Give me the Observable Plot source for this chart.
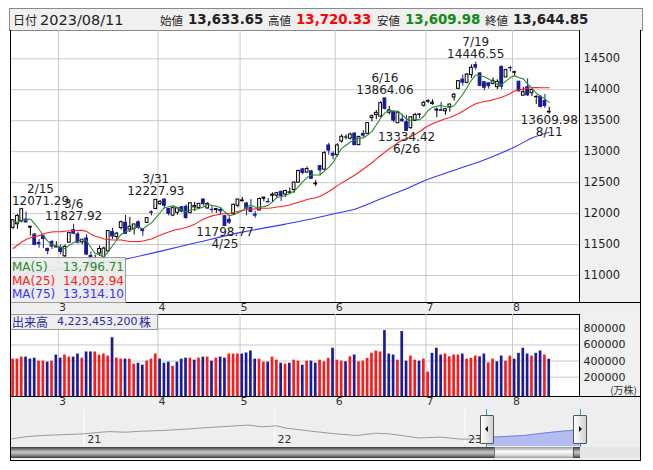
<!DOCTYPE html>
<html><head><meta charset="utf-8">
<script src="https://cdn.jsdelivr.net/npm/d3@7"></script>
<script src="https://cdn.jsdelivr.net/npm/@observablehq/plot@0.6"></script>
<style>
html,body{margin:0;padding:0;background:#fff;}
#root{position:relative;width:653px;height:470px;overflow:hidden;font-family:"DejaVu Sans",sans-serif;color:#222;}
#root > div, #root > svg{position:absolute;}
.jp{font-family:"Noto Sans CJK JP","DejaVu Sans",sans-serif;}
</style></head><body><div id="root"></div>
<script>
// ---------------- data ----------------
const dates = ["2/13","2/14","2/15","2/16","2/17","2/21","2/22","2/23","2/24","2/27","2/28",
"3/1","3/2","3/3","3/6","3/7","3/8","3/9","3/10","3/13","3/14","3/15","3/16","3/17","3/20","3/21","3/22","3/23","3/24","3/27","3/28","3/29","3/30","3/31",
"4/3","4/4","4/5","4/6","4/10","4/11","4/12","4/13","4/14","4/17","4/18","4/19","4/20","4/21","4/24","4/25","4/26","4/27","4/28",
"5/1","5/2","5/3","5/4","5/5","5/8","5/9","5/10","5/11","5/12","5/15","5/16","5/17","5/18","5/19","5/22","5/23","5/24","5/25","5/26","5/30","5/31",
"6/1","6/2","6/5","6/6","6/7","6/8","6/9","6/12","6/13","6/14","6/15","6/16","6/20","6/21","6/22","6/23","6/26","6/27","6/28","6/29","6/30",
"7/3","7/5","7/6","7/7","7/10","7/11","7/12","7/13","7/14","7/17","7/18","7/19","7/20","7/21","7/24","7/25","7/26","7/27","7/28","7/31",
"8/1","8/2","8/3","8/4","8/7","8/8","8/9","8/10","8/11"];

const open = [11770,11828,11880,11904,11773,11661,11525,11635,11430,11540,11452,
11443,11310,11531,11732,11663,11535,11598,11316,11066,11356,11276,11390,11702,11621,11767,11852,11744,11749,11860,11750,11850,12019,12075,
12151,12227,12075,11968,12012,12101,12109,12012,12100,12087,12226,12083,12061,12058,12058,11957,11900,11990,12127,
12201,12162,12089,11984,12051,12240,12189,12287,12290,12351,12308,12336,12381,12500,12714,12662,12681,12474,12766,12710,13100,12966,
12946,13165,13228,13210,13290,13105,13286,13288,13542,13591,13568,13860,13629,13646,13459,13518,13476,13380,13496,13601,13742,
13807,13772,13665,13671,13652,13717,13876,14015,14164,14112,14237,14398,14264,14121,14103,14094,14042,14368,14199,14350,
14275,14129,13904,14040,13944,13880,13888,13818,13633.65];

const high = [11897,11987,12071.29,12027,11795,11675,11580,11638,11440,11569,11547,
11490,11491,11690,11827.92,11699,11590,11661,11378,11326,11479,11461,11727,11762,11697,11880,11972,11938,11830,11882,11755,11931,12046,12227.93,
12213,12231,12081,12092,12089,12113,12141,12173,12181,12158,12242,12176,12114,12083,12096,11968,11946,12152,12231,
12262,12184,12227,12035,12252,12267,12244,12335,12343,12364,12377,12414,12514,12700,12731,12753,12698,12535,12780,13000,13135,12996,
13128,13272,13272,13302,13310,13247,13341,13463,13594,13663,13808,13864.06,13730,13655,13641,13603,13585,13561,13620,13612,13816,
13839,13835,13706,13795,13697,13770,13940,14150,14238,14263,14402,14446.55,14273,14133,14109,14190,14162,14387,14333,14379,
14300,14140,14041,14175,14002,13906,13893,13925,13720.33];

const low = [11744,11748,11850,11850,11638,11490,11440,11436,11333,11420,11450,
11337,11292,11522,11660,11510,11495,11322,11086,10982.80,11305,11215,11375,11583,11570,11735,11668,11695,11655,11745,11633,11841,11962,12061,
12133,12074,11962,11950,11973,12015,11906,11994,12033,12066,12120,12072,12005,12002,11970,11798.77,11826,11974,12094,
12185,11963,12018,11925,12044,12193,12176,12182,12253,12195,12261,12320,12325,12491,12626,12658,12552,12437,12610,12700,12946,12869,
12915,13137,13192,13188,13095,13097,13226,13281,13481,13517,13552,13672,13595,13469,13453,13471,13334.42,13362,13495,13532,13718,
13780,13749,13548,13653,13589,13638,13817,14003,14058,14095,14181,14315,14050,13984,14011,14080,14000,14000,14199,14287,
14208,13963,13901,13895,13891,13762,13707,13698,13609.98];

const close = [11891.79,11960.15,12070.59,11855.83,11787.27,11492.30,11507.07,11590.40,11394.94,11466.98,11455.54,
11379.48,11462.98,11689.01,11675.74,11530.33,11576.00,11338.35,11138.89,11188.84,11428.15,11434.05,11717.28,11630.51,11675.54,11860.11,11669.96,11787.40,11823.96,11768.84,11716.08,11926.24,12013.47,12221.91,
12189.45,12126.33,11996.86,12087.96,12084.36,12031.88,11929.34,12166.27,12123.47,12157.72,12153.41,12157.23,12059.56,12072.46,12037.20,11799.16,11854.35,12142.24,12226.58,
12212.60,12080.51,12025.33,11966.40,12235.41,12256.92,12179.55,12306.44,12328.51,12284.74,12365.21,12343.05,12500.57,12688.84,12657.90,12720.78,12560.25,12484.16,12698.09,12975.69,13017.43,12935.29,
13100.98,13240.77,13229.43,13276.42,13104.90,13238.52,13259.14,13461.92,13573.32,13626.48,13782.82,13689.57,13667.29,13502.20,13630.61,13492.52,13335.78,13555.67,13591.75,13591.33,13787.92,
13816.77,13791.65,13679.04,13660.72,13685.48,13760.70,13918.96,14138.57,14113.70,14244.95,14353.64,14358.02,14063.31,14032.81,14058.87,14144.56,14127.28,14050.11,14316.66,14346.02,
14283.91,13973.45,13959.72,13909.24,13994.40,13884.32,13722.02,13737.99,13644.85];

// volume in 万株
const volume = [424000,424000,449000,449000,424000,436000,399000,399000,386000,399000,474000,436000,474000,449000,449000,487000,436000,513000,513000,513000,474000,487000,462000,690000,436000,424000,424000,424000,361000,373000,348000,399000,424000,487000,424000,373000,386000,335000,386000,424000,436000,436000,411000,436000,449000,449000,399000,436000,449000,436000,487000,487000,487000,487000,500000,525000,424000,424000,386000,386000,449000,411000,373000,361000,373000,411000,399000,348000,399000,399000,373000,
411000,390000,433000,559000,411000,399000,390000,453000,475000,390000,399000,433000,496000,525000,513000,778000,487000,475000,411000,766000,399000,462000,411000,399000,424000,263000,496000,559000,475000,487000,453000,475000,475000,487000,424000,433000,462000,453000,487000,377000,424000,390000,462000,399000,462000,424000,496000,559000,487000,462000,496000,525000,475000,422345.32];

const ma5Lead = [11885, 11854, 11886, 11899];
const ma25Lead = [11436,11489,11542,11580,11611,11628,11644,11669,11690,11704,11707,11709,11715,11722,11724,11730,11729,11710,11668,11635,11617,11590,11582,11576];
const ma75At = [0,11,26,34,43,53,63,71,75,79,83,88,91,94,102,110,116,120,124];
const ma75Val = [11000,11100,11265,11390,11540,11700,11830,11945,12010,12070,12180,12320,12400,12500,12700,12895,13075,13220,13314.10];

const annDates = ["2/15","3/6","3/13","3/31","4/25","6/16","6/26","7/19","8/11"];
const annKinds = ["high","high","low","high","low","high","low","high","low"];

const priceTicks = [11000,11500,12000,12500,13000,13500,14000,14500];
const volTicks = [200000,400000,600000,800000];
const monthLabels = ["3","4","5","6","7","8"];

// navigator (long-term line)
const navYear = [2020.61,2020.69,2020.78,2020.88,2021.00,2021.09,2021.13,2021.22,2021.30,2021.40,2021.53,2021.66,2021.77,2021.86,2021.93,2021.97,2022.01,2022.06,2022.10,2022.19,2022.32,2022.43,2022.53,2022.60,2022.69,2022.76,2022.87,2022.98,2023.08,2023.12,2023.15,2023.24,2023.31,2023.42,2023.51,2023.58,2023.61];
const navValue = [10400,11390,11870,12190,12550,13180,13420,13180,13580,13820,14370,15090,15560,16000,15360,15480,15720,14770,14450,13580,12550,11870,12780,12550,11590,10880,11240,10400,10520,10800,11240,11590,11870,12900,13580,14050,13850];
const navYearTicks = [2021,2022,2023];
const navYearLabels = ["21","22","23"];
const selStartYear = 2023.118, selEndYear = 2023.608;

// ---------------- derived ----------------
const n = dates.length;
const idx = d3.range(n);
const month = dates.map(d => +d.split("/")[0]);
const monthStart = idx.filter(i => i > 0 && month[i] !== month[i-1]);
const boundaries = monthStart.map(i => i - 0.5);
const boundLabel = new Map(boundaries.map((b,k) => [b, monthLabels[k]]));

const ma5 = idx.map(i => i < 4 ? ma5Lead[i] : d3.mean(close.slice(i-4, i+1)));
const ma25 = idx.map(i => i < 24 ? ma25Lead[i] : d3.mean(close.slice(i-24, i+1)));
const ma75 = ma75At.map((k,j) => ({i:k, v:ma75Val[j]}));

const NAVY = "#1b1b98", RED = "#ff1a1a";
const bars = idx.map(i => ({i, o:open[i], h:high[i], l:low[i], c:close[i], up: close[i] >= open[i]}));
const vbars = idx.map(i => ({i, v: volume[i], up: i === 0 ? close[0] >= open[0] : close[i] >= close[i-1]}));

const X_DOMAIN = [-0.6, 131.0];
const P_DOMAIN = [10564, 14957];
const V_DOMAIN = [-40000, 978000];
const PLOT_W = 569;
const xs = d3.scaleLinear(X_DOMAIN, [0, PLOT_W]);
const fmt = d3.format(",.2f");
const trunc2 = v => Math.floor(v * 100 + 1e-6) / 100;
const FONT = "DejaVu Sans, sans-serif";

const root = document.getElementById("root");
function box(css, cls) { const d = document.createElement("div"); Object.assign(d.style, {position:"absolute", boxSizing:"border-box"}, css); if (cls) d.className = cls; root.appendChild(d); return d; }
function span(parent, text, css, cls) { const s = document.createElement("span"); s.textContent = text; Object.assign(s.style, {position:"absolute", whiteSpace:"nowrap"}, css); if (cls) s.className = cls; parent.appendChild(s); return s; }
function place(svg, left, top) { svg.style.position = "absolute"; svg.style.left = left + "px"; svg.style.top = top + "px"; root.appendChild(svg); }

// ---------------- backgrounds ----------------
const hdr = box({left:"9px", top:"8px", width:"634px", height:"23px", background:"#f0f0f0", border:"1px solid #8a8a8a"});
box({left:"579px", top:"30px", width:"62px", height:"273px", background:"#f0f0f0", borderLeft:"1px solid #000"});
box({left:"10px", top:"302px", width:"631px", height:"13px", background:"#efefef", borderTop:"1px solid #000", borderBottom:"1px solid #000"});
box({left:"579px", top:"314px", width:"62px", height:"83px", background:"#f0f0f0", borderLeft:"1px solid #000"});
box({left:"10px", top:"396px", width:"631px", height:"13px", background:"#efefef", borderTop:"1px solid #000", borderBottom:"1px solid #000"});
box({left:"10px", top:"408px", width:"631px", height:"52px", background:"#eeeeee"});

// header text
const last = n - 1;
span(hdr, "日付", {left:"3px", top:"2px", fontSize:"12px", lineHeight:"18px"}, "jp");
span(hdr, "2023/08/11", {left:"30px", top:"1px", fontSize:"14.5px", lineHeight:"20px"});
const hv = [["始値", open[last], "#222", 150], ["高値", high[last], "#ff0000", 258], ["安値", low[last], "#138a13", 367], ["終値", close[last], "#222", 475]];
for (const [lab, v, col, x] of hv) {
  span(hdr, lab, {left: x + "px", top:"2px", fontSize:"11.5px", lineHeight:"18px"}, "jp");
  span(hdr, fmt(v), {left: (x + 28) + "px", top:"1px", fontSize:"13.4px", fontWeight:"bold", color: col, lineHeight:"20px"});
}

// ---------------- price panel ----------------
const annMarks = [];
annDates.forEach((d, k) => {
  const i = dates.indexOf(d);
  const isHigh = annKinds[k] === "high";
  const v = isHigh ? high[i] : low[i];
  const px = xs(i), half = 29;
  let dx = 0;
  if (px - half < 1) dx = 1 + half - px;
  if (px + half > PLOT_W - 1) dx = PLOT_W - 1 - half - px;
  const rec = [{i, v, val: v.toFixed(2), date: d}];
  const common = {x: "i", y: "v", dx, fontSize: 12, fill: "#222", fontFamily: FONT};
  annMarks.push(Plot.text(rec, {...common, text: "val", dy: isHigh ? -8 : 6}));
  annMarks.push(Plot.text(rec, {...common, text: "date", dy: isHigh ? -20 : 18}));
});

const price = Plot.plot({
  width: 631, height: 284,
  marginLeft: 0, marginRight: 62, marginTop: 0, marginBottom: 12,
  x: {type: "linear", domain: X_DOMAIN, axis: null},
  y: {domain: P_DOMAIN, axis: null},
  style: {background: "transparent", fontFamily: FONT, overflow: "visible"},
  marks: [
    Plot.gridY(priceTicks, {stroke: "#c9c9c9", strokeOpacity: 1}),
    Plot.gridX(boundaries, {stroke: "#c9c9c9", strokeOpacity: 1}),
    Plot.axisY(priceTicks, {anchor: "right", label: null, tickSize: 0, tickPadding: 4, fontSize: 11.5, tickFormat: d => String(d), color: "#222"}),
    Plot.axisX(boundaries, {anchor: "bottom", label: null, tickSize: 0, tickPadding: 1, dx: 4, fontSize: 11, tickFormat: d => boundLabel.get(d), color: "#333"}),
    Plot.ruleX(bars, {x: "i", y1: "l", y2: "h", stroke: d => d.up ? "#000" : NAVY, strokeWidth: 1}),
    Plot.rect(bars, {x1: d => d.i - 0.32, x2: d => d.i + 0.32, y1: "o", y2: "c", fill: d => d.up ? "#fff" : NAVY, stroke: d => d.up ? "#000" : NAVY, strokeWidth: 1}),
    Plot.line(ma75, {x: "i", y: "v", stroke: "#3535ff", strokeWidth: 1.1, curve: "monotone-x"}),
    Plot.line(idx, {x: i => i, y: i => ma25[i], stroke: "#ff2020", strokeWidth: 1.1}),
    Plot.line(idx, {x: i => i, y: i => ma5[i], stroke: "#2a8a2a", strokeWidth: 1.1}),
    ...annMarks
  ]
});
place(price, 10, 30);

// ---------------- volume panel ----------------
const vol = Plot.plot({
  width: 631, height: 94,
  marginLeft: 0, marginRight: 62, marginTop: 0, marginBottom: 12,
  x: {type: "linear", domain: X_DOMAIN, axis: null},
  y: {domain: V_DOMAIN, axis: null},
  style: {background: "transparent", fontFamily: FONT, overflow: "visible"},
  marks: [
    Plot.gridY(volTicks, {stroke: "#c9c9c9", strokeOpacity: 1}),
    Plot.gridX(boundaries, {stroke: "#c9c9c9", strokeOpacity: 1}),
    Plot.axisY(volTicks, {anchor: "right", label: null, tickSize: 0, tickPadding: 4, fontSize: 11, tickFormat: d => String(d), color: "#222"}),
    Plot.axisX(boundaries, {anchor: "bottom", label: null, tickSize: 0, tickPadding: 1, dx: 4, fontSize: 11, tickFormat: d => boundLabel.get(d), color: "#333"}),
    Plot.rect(vbars, {x1: d => d.i - 0.31, x2: d => d.i + 0.31, y1: d => V_DOMAIN[0], y2: "v", fill: d => d.up ? RED : NAVY})
  ]
});
place(vol, 10, 314);

// ---------------- navigator ----------------
const navPts = navYear.map((y, k) => ({x: y, v: navValue[k]}));
const navBefore = navPts.filter(d => d.x <= selStartYear + 0.005);
const navSel = navPts.filter(d => d.x >= selStartYear - 0.005);
const NAV_DOMAIN = [7500, 22200];
const nav = Plot.plot({
  width: 631, height: 52,
  marginLeft: 0, marginRight: 0, marginTop: 1, marginBottom: 14,
  x: {domain: [2020.613, 2023.927], axis: null},
  y: {domain: NAV_DOMAIN, axis: null},
  style: {background: "transparent", fontFamily: FONT, overflow: "visible"},
  marks: [
    Plot.ruleX(navYearTicks, {stroke: "#fafafa", strokeWidth: 1.5}),
    Plot.areaY(navSel, {x: "x", y1: d => NAV_DOMAIN[0], y2: "v", fill: "#b3bdf2"}),
    Plot.line(navBefore, {x: "x", y: "v", stroke: "#9a9a9a", strokeWidth: 1}),
    Plot.line(navSel, {x: "x", y: "v", stroke: "#7583d6", strokeWidth: 1}),
    Plot.text(navYearTicks, {x: d => d, text: (d, k) => navYearLabels[k], frameAnchor: "bottom", dy: -4, dx: 3, textAnchor: "start", fontSize: 11, fill: "#333"})
  ]
});
place(nav, 10, 408);
const nx = nav.scale("x");
const sx0 = 10 + nx.apply(selStartYear), sx1 = 10 + nx.apply(selEndYear);
// scrollbar
box({left:"10px", top:"447px", width:(sx1 - 10) + "px", height:"11px", background:"linear-gradient(#3a3a3a,#c8c8c8 45%,#9a9a9a 70%,#3a3a3a)"});
box({left:(sx0 + 7) + "px", top:"447px", width:(sx1 - sx0 - 13) + "px", height:"11px", background:"linear-gradient(#9a9a9a,#ffffff 40%,#dcdcdc 75%,#9a9a9a)", borderLeft:"1px solid #777", borderRight:"1px solid #555"});
box({left:(sx1) + "px", top:"447px", width:(641 - sx1) + "px", height:"11px", background:"#e6e6e6"});
// selection edges + handles
for (const [sx, tri] of [[sx0, "left"], [sx1, "right"]]) {
  box({left:(sx - 0.5) + "px", top:"409px", width:"1px", height:"38px", background:"#2a9fd8"});
  const h = box({left:(sx - 7) + "px", top:"415px", width:"14px", height:"29px", background:"linear-gradient(to right,#ffffff,#d0d0d0)", border:"1px solid #555", borderRadius:"1px"});
  const t = document.createElement("div");
  Object.assign(t.style, {position:"absolute", left: tri === "left" ? "4px" : "5px", top:"10px", width:"0", height:"0",
    borderTop:"3px solid transparent", borderBottom:"3px solid transparent"});
  if (tri === "left") t.style.borderRight = "3px solid #111"; else t.style.borderLeft = "3px solid #111";
  h.appendChild(t);
}

// ---------------- overlays ----------------
// MA legend
const lg = box({left:"10px", top:"257px", width:"116px", height:"46px", background:"rgba(236,236,236,0.93)", border:"1px solid #9a9a9a"});
const legRows = [["MA(5)", ma5[last], "#2a8a2a"], ["MA(25)", ma25[last], "#ff2020"], ["MA(75)", ma75Val[ma75Val.length-1], "#3535ff"]];
legRows.forEach(([lab, v, col], r) => {
  span(lg, lab, {left:"1px", top:(2 + r*13.7) + "px", fontSize:"12px", lineHeight:"14px", color: col});
  span(lg, fmt(trunc2(v)), {right:"1px", top:(2 + r*13.7) + "px", fontSize:"12px", lineHeight:"14px", color: col});
});
// volume label
const vl = box({left:"10px", top:"314px", width:"148px", height:"16px", background:"rgba(236,236,236,0.9)", border:"1px solid #9a9a9a"});
span(vl, "出来高", {left:"1px", top:"0px", fontSize:"12px", lineHeight:"14px", color:"#2b2ba5"}, "jp");
span(vl, d3.format(",")(Math.round(volume[last] * 10000)), {left:"46px", top:"0px", fontSize:"11px", lineHeight:"14px", color:"#2b2ba5"});
span(vl, "株", {left:"128px", top:"0px", fontSize:"12px", lineHeight:"14px", color:"#2b2ba5"}, "jp");
// unit label
const ul = box({left:"600px", top:"383px", width:"40px", height:"13px"});
span(ul, "(万株)", {right:"3px", top:"0px", fontSize:"10px", lineHeight:"13px", color:"#333"}, "jp");

// frame lines
box({left:"10px", top:"30px", width:"631px", height:"431px", border:"1px solid #000", borderTop:"none"});
</script></body></html>
